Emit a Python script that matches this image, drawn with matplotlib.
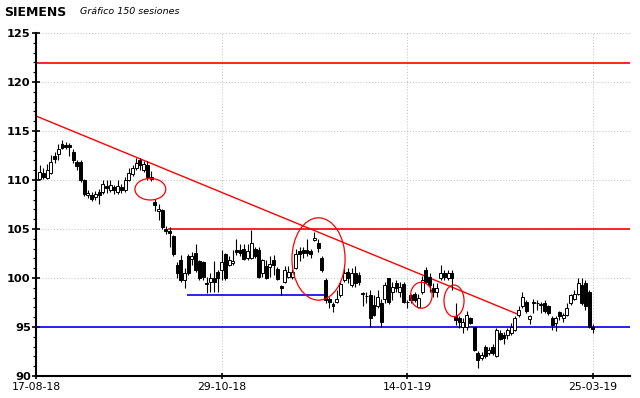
import matplotlib
matplotlib.use("Agg")
import matplotlib.pyplot as plt
from matplotlib.patches import Ellipse
import numpy as np

# ---------------- data ----------------
opens = [110.1, 110.75, 110.2, 110.7, 112.4, 112.7, 113.7, 113.6, 113.6, 112.9,
         111.8, 111.8, 110.0, 108.5, 108.5, 108.3, 108.8, 108.8, 109.4, 109.0,
         109.3, 108.8, 109.3, 109.0, 110.0, 110.6, 111.2, 112.0, 111.0, 111.5,
         110.1, 107.8, 106.8, 106.9, 105.0, 104.8, 104.3, 101.3, 101.8, 99.8,
         102.2, 101.9, 102.6, 101.7, 101.6, 99.5, 99.6, 100.0, 100.6, 100.8,
         102.5, 101.3, 101.5, 102.85, 102.9, 103.0, 102.0, 102.0, 103.0, 102.9,
         100.5, 101.2, 101.1, 101.8, 100.9, 99.2, 99.6, 100.1, 100.1, 101.0,
         102.8, 102.9, 102.9, 102.8, 103.9, 103.6, 102.0, 99.8, 97.9, 97.3,
         97.6, 98.3, 99.8, 100.6, 99.3, 100.5, 100.3, 98.4, 98.2, 98.3,
         97.2, 97.1, 97.4, 97.9, 100.0, 98.6, 99.5, 98.6, 99.4, 97.6,
         98.3, 98.4, 97.0, 98.6, 100.8, 100.1, 98.95, 98.6, 100.0, 100.5,
         100.0, 100.5, 96.1, 95.9, 95.0, 95.0, 95.9, 95.0, 92.3, 91.8,
         93.0, 92.3, 93.0, 92.0, 94.4, 94.2, 94.2, 94.4, 94.7, 96.2,
         97.1, 97.6, 95.8, 97.5, 97.4, 97.3, 97.4, 97.1, 95.9, 95.4,
         96.5, 95.9, 96.2, 97.4, 97.9, 98.4, 99.3, 99.5, 98.6, 95.0]
highs = [111.5, 111.2, 111.6, 112.6, 112.9, 113.7, 114.1, 113.9, 113.8, 113.2,
         112.0, 112.0, 110.1, 109.0, 108.8, 108.9, 109.1, 110.0, 110.0, 110.0,
         109.5, 110.0, 109.6, 110.3, 111.2, 111.5, 112.2, 112.2, 111.9, 111.9,
         110.9, 108.1, 107.6, 107.0, 105.3, 105.2, 104.4, 101.6, 102.3, 101.0,
         102.4, 102.7, 103.5, 101.8, 101.7, 100.1, 100.5, 101.7, 100.8, 102.9,
         102.6, 102.2, 102.9, 104.0, 103.5, 103.5, 103.5, 104.9, 103.2, 103.2,
         101.9, 101.8, 102.2, 102.3, 101.1, 99.3, 101.2, 101.2, 100.9, 103.0,
         103.2, 103.2, 104.0, 103.0, 104.7, 104.0, 102.2, 100.0, 98.1, 97.6,
         98.8, 99.6, 101.0, 101.0, 101.0, 101.2, 100.6, 98.6, 98.6, 98.8,
         98.3, 98.8, 97.9, 99.6, 100.0, 99.6, 99.8, 99.6, 99.6, 97.8,
         98.4, 98.6, 98.4, 100.2, 101.1, 100.5, 99.5, 99.5, 101.3, 100.8,
         100.8, 100.8, 97.4, 96.1, 95.9, 96.6, 96.0, 95.0, 92.6, 92.5,
         93.2, 93.0, 93.3, 94.9, 94.7, 94.5, 94.9, 95.4, 96.1, 97.1,
         98.6, 97.8, 96.2, 97.9, 97.8, 97.6, 97.8, 97.2, 96.1, 96.1,
         96.6, 96.4, 97.4, 98.4, 98.8, 100.0, 99.97, 99.8, 98.8, 95.3]
lows = [110.0, 110.1, 110.1, 110.65, 111.7, 112.0, 113.2, 113.2, 112.4, 111.7,
        111.0, 109.8, 108.4, 108.2, 107.9, 108.0, 107.6, 108.6, 108.7, 108.8,
        108.6, 108.6, 108.7, 108.8, 109.9, 110.4, 111.0, 111.0, 110.8, 110.0,
        109.9, 106.8, 105.9, 105.0, 104.5, 103.2, 102.2, 100.0, 99.6, 99.0,
        100.3, 101.3, 100.6, 99.8, 99.8, 98.5, 98.6, 98.6, 98.6, 99.8,
        99.8, 101.2, 101.3, 102.3, 102.2, 101.8, 101.8, 101.9, 102.0, 99.96,
        100.1, 99.9, 100.1, 100.3, 99.8, 98.3, 99.5, 100.0, 99.9, 100.9,
        101.7, 102.0, 102.2, 102.0, 103.8, 102.7, 100.6, 97.4, 96.9, 96.5,
        97.5, 98.1, 99.6, 99.5, 99.1, 99.1, 99.3, 97.1, 97.4, 95.0,
        96.1, 96.9, 95.0, 97.5, 97.3, 97.8, 98.6, 98.1, 97.4, 96.9,
        97.5, 97.6, 96.9, 98.4, 99.5, 98.6, 98.1, 98.1, 99.8, 99.8,
        99.8, 98.8, 95.2, 94.9, 94.4, 94.7, 95.3, 92.6, 90.8, 91.6,
        91.8, 92.1, 92.1, 91.9, 93.7, 93.3, 93.8, 94.2, 94.6, 96.0,
        96.9, 96.4, 95.3, 96.4, 96.7, 96.4, 96.4, 96.2, 94.7, 94.6,
        95.7, 95.5, 96.1, 97.2, 97.8, 98.3, 97.2, 96.7, 94.9, 94.4]
closes = [110.8, 110.35, 111.0, 111.8, 112.1, 113.2, 113.3, 113.4, 113.4, 112.0,
          111.4, 110.0, 108.6, 108.7, 108.1, 108.6, 108.5, 109.6, 109.2, 109.5,
          109.0, 109.4, 109.0, 110.0, 110.7, 111.2, 111.7, 111.5, 111.6, 110.3,
          110.3, 107.4, 107.0, 105.2, 104.8, 104.6, 102.5, 100.5, 99.8, 100.5,
          100.5, 102.2, 100.8, 100.0, 100.1, 99.4, 100.0, 99.6, 100.0, 101.6,
          100.0, 101.8, 101.7, 102.7, 102.6, 101.9, 102.8, 103.6, 102.2, 100.1,
          101.8, 100.0, 101.4, 101.3, 99.9, 99.0, 100.8, 100.6, 100.6, 102.4,
          102.5, 102.6, 102.6, 102.5, 104.1, 103.1, 100.8, 97.8, 97.6, 97.1,
          97.9, 99.4, 100.5, 100.0, 100.5, 99.5, 99.6, 98.45, 98.2, 95.9,
          96.2, 98.1, 95.5, 99.3, 97.6, 99.1, 99.0, 99.1, 97.6, 97.6,
          97.8, 97.8, 98.0, 99.8, 99.6, 99.3, 98.6, 98.95, 100.5, 100.1,
          100.5, 100.0, 95.7, 95.5, 95.5, 96.2, 95.4, 92.7, 91.6, 92.1,
          92.0, 92.7, 92.3, 94.7, 93.8, 93.9, 94.7, 95.0, 95.9, 96.7,
          98.1, 96.6, 96.1, 97.4, 97.4, 97.2, 96.6, 96.4, 95.2, 95.9,
          96.1, 96.2, 96.9, 98.3, 98.4, 99.5, 97.4, 97.1, 95.0, 94.8]

date_labels = ["17-08-18", "29-10-18", "14-01-19", "25-03-19"]
date_sessions = [0, 50, 100, 150]

# drawn analysis levels
resistance_top = 121.9
resistance_mid = 105.0
resistance_mid_start = 35.5
support_low = 95.0
support_box = 98.25
support_box_range = [40.7, 77.5]
trend_x = [0, 129.8]
trend_y = [116.53, 96.3]
# circles: (x center, y center, width, height) in session/price units
circles = [(30.8, 109.06, 8.3, 2.2),
           (76.1, 101.94, 14.3, 8.4),
           (103.8, 98.24, 5.8, 2.65),
           (112.6, 97.67, 5.4, 3.23)]

# ---------------- figure ----------------
fig = plt.figure(figsize=(6.4, 3.98), dpi=100)
ax = fig.add_axes([36/640, 1-376/398, 594/640, 343/398])
ax.set_xlim(0, 160)
ax.set_ylim(90, 125)

sessions = np.arange(1, len(closes) + 1)
o = np.array(opens); h = np.array(highs); l = np.array(lows); c = np.array(closes)

ax.grid(True, which="major", linestyle=(0, (1.2, 1.8)), color="#c8c8c8", linewidth=0.7, zorder=0)
ax.set_axisbelow(True)

# levels
red = "#ff0000"
blue = "#0000ee"
ax.axhline(resistance_top, color=red, lw=1.2, zorder=2)
ax.hlines(resistance_mid, resistance_mid_start, 160, color=red, lw=1.2, zorder=2)
ax.axhline(support_low, color=blue, lw=1.2, zorder=2)
ax.hlines(support_box, support_box_range[0], support_box_range[1], color=blue, lw=1.2, zorder=2)
ax.plot(trend_x, trend_y, color=red, lw=1.0, zorder=2)

# candles
ax.vlines(sessions, l, h, color="black", lw=0.8, zorder=3)
up = c >= o
bottoms = np.minimum(o, c)
heights = np.abs(c - o)
faces = np.where(up, "white", "black")
ax.bar(sessions, heights, bottom=bottoms, width=0.8, color=list(faces),
       edgecolor="black", linewidth=0.7, zorder=4)

for (cx, cy, w, hh) in circles:
    ax.add_patch(Ellipse((cx, cy), w, hh, fill=False, edgecolor=red, lw=0.9, zorder=5))

# axes styling
for s in ["top", "right"]:
    ax.spines[s].set_visible(False)
for s in ["left", "bottom"]:
    ax.spines[s].set_linewidth(1.5)
    ax.spines[s].set_color("black")

ax.set_yticks(np.arange(90, 126, 5))
ax.set_yticks(np.arange(90, 126, 1), minor=True)
ax.tick_params(axis="y", which="major", direction="inout", length=5.5, width=1.2,
               labelsize=8.2, pad=1)
ax.tick_params(axis="y", which="minor", direction="out", length=2.2, width=0.8)
for lab in ax.get_yticklabels():
    lab.set_fontweight("bold")

ax.set_xticks(date_sessions)
ax.set_xticklabels(date_labels)
ax.tick_params(axis="x", which="major", direction="inout", length=5, width=1.2,
               labelsize=7.8, pad=2)

fig.text(4/640, 1-12/398, "SIEMENS", fontsize=9, fontweight="bold", va="center", ha="left")
fig.text(80/640, 1-12/398, "Gráfico 150 sesiones", fontsize=6.8, style="italic",
         va="center", ha="left")

fig.savefig("out.png", dpi=100)
